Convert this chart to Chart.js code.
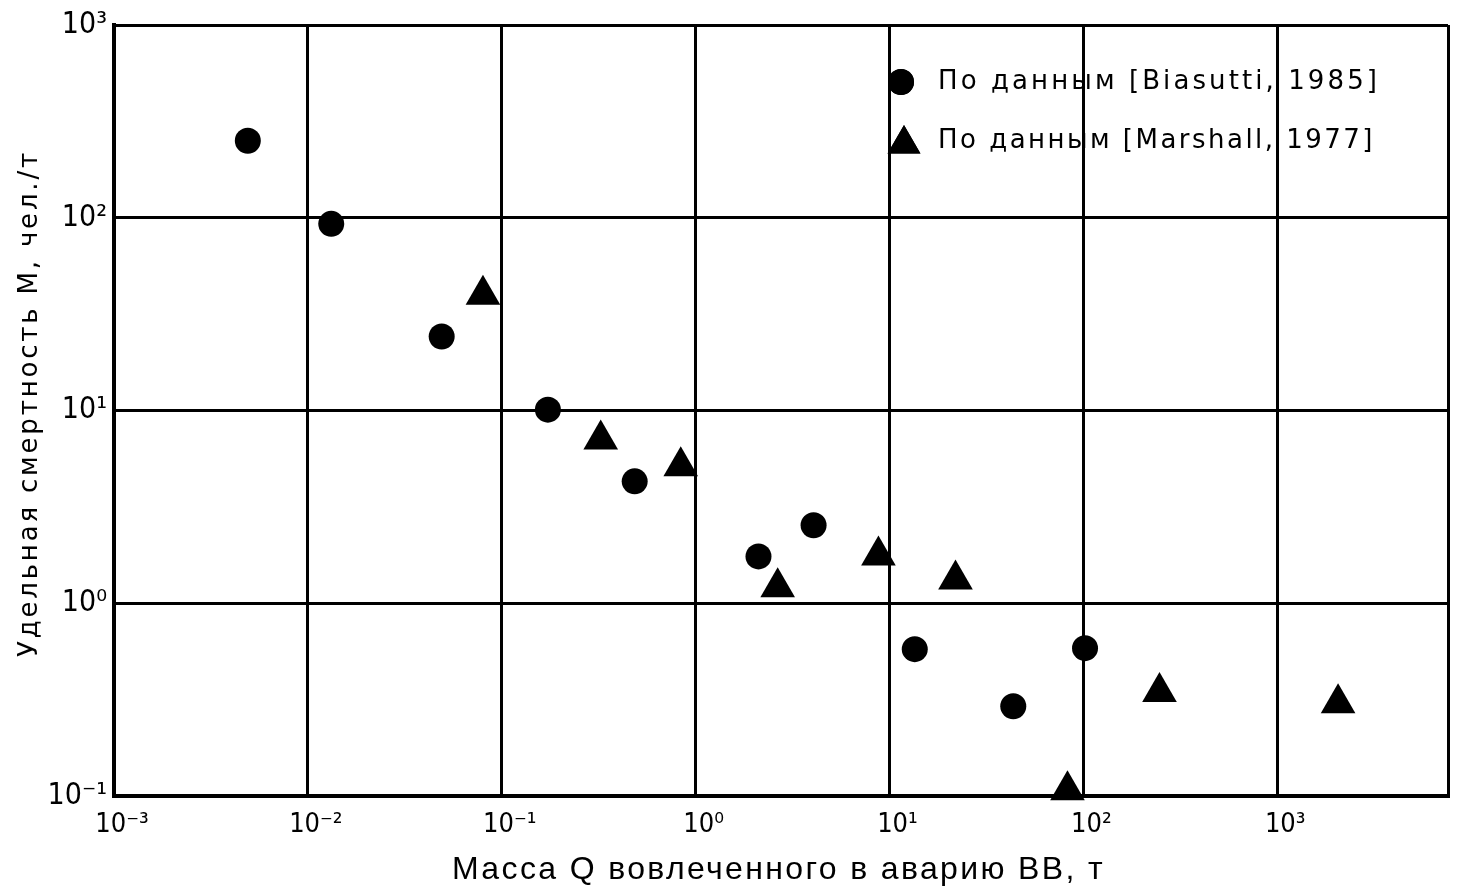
<!DOCTYPE html>
<html lang="ru">
<head>
<meta charset="utf-8">
<title>Удельная смертность</title>
<script src="https://cdn.jsdelivr.net/npm/chart.js@4.4.1/dist/chart.umd.min.js"></script>
<style>
  html, body { margin: 0; padding: 0; background: #fff; }
  canvas { display: block; }
</style>
</head>
<body>
<canvas id="chart" width="1463" height="892"></canvas>
<script>
// values (Q in t, M in people/t)
const BIASUTTI_Q = [0.0049, 0.0132, 0.049, 0.173, 0.485, 2.11, 4.06, 13.5, 43.5, 102]
const BIASUTTI_M = [251, 93, 24.2, 10.1, 4.29, 1.75, 2.54, 0.578, 0.292, 0.585]
const MARSHALL_Q = [0.080, 0.324, 0.838, 2.65, 8.77, 21.9, 82.8, 247, 2060]
const MARSHALL_M = [39.9, 7.08, 5.13, 1.21, 1.77, 1.33, 0.107, 0.346, 0.303]

const SERIES_LABELS = ["По данным [Biasutti, 1985]", "По данным [Marshall, 1977]"]

const X_TICKS       = [1e-3, 1e-2, 1e-1, 1, 10, 100, 1000]
const X_TICK_LABELS = ["10⁻³", "10⁻²", "10⁻¹", "10⁰", "10¹", "10²", "10³"]
const X_MIN = 1e-3
const X_MAX = 7600

const Y_TICKS       = [0.1, 1, 10, 100, 1000]
const Y_TICK_LABELS = ["10⁻¹", "10⁰", "10¹", "10²", "10³"]
const Y_MIN = 0.1
const Y_MAX = 1000

const X_TITLE = "Масса Q вовлеченного в аварию ВВ, т"
const Y_TITLE = "Удельная смертность M, чел./т"

const FONT      = '"Liberation Sans", "DejaVu Sans", sans-serif'
const WIDE_FONT = '"DejaVu Sans", "Liberation Sans", sans-serif'
const TICK_FONT = '"Liberation Sans Narrow", "DejaVu Sans Condensed", "Liberation Sans", sans-serif'

const toPoints = (xs, ys) => xs.map((x, i) => ({ x, y: ys[i] }))

const labelFor = (ticks, labels) => value => {
  const i = ticks.findIndex(t => Math.abs(t - value) <= t * 1e-9)
  return i === -1 ? "" : labels[i]
}

// the scan's lettering is loosely spaced, so stretch text to its measured run
function spacedText(ctx, text, x, y, width) {
  ctx.letterSpacing = "0px"
  const plain = ctx.measureText(text).width
  const n = Array.from(text).length
  ctx.letterSpacing = `${(width - plain) / n}px`
  ctx.fillText(text, x, y)
  ctx.letterSpacing = "0px"
}

// legend and axis titles, drawn over the grid like in the printed figure
const annotations = {
  id: "annotations",
  afterDatasetsDraw(chart) {
    const { ctx } = chart
    const rows = [
      { mx: 901, my: 82,  tx: 938, ty: 82,  w: 442 },
      { mx: 904, my: 144, tx: 938, ty: 141, w: 437 },
    ]
    ctx.save()
    ctx.fillStyle = "#000"
    ctx.textAlign = "left"
    ctx.textBaseline = "middle"
    ctx.font = `26px ${WIDE_FONT}`
    chart.data.datasets.forEach((ds, i) => {
      const r = rows[i]
      Chart.helpers.drawPoint(ctx, {
        pointStyle: ds.pointStyle,
        radius:     ds.pointStyle === "triangle" ? 19 : ds.pointRadius,
        rotation:   0,
        borderWidth: 0,
      }, r.mx, r.my)
      ctx.fill()
      spacedText(ctx, ds.label, r.tx, r.ty, r.w)
    })

    ctx.textBaseline = "alphabetic"
    ctx.font = `32px ${FONT}`
    spacedText(ctx, X_TITLE, 452, 879, 653)

    ctx.translate(37, 657)
    ctx.rotate(-Math.PI / 2)
    ctx.font = `26px ${WIDE_FONT}`
    spacedText(ctx, Y_TITLE, 0, 0, 507)
    ctx.restore()
  },
}

new Chart(document.getElementById("chart"), {
  type: "scatter",
  data: {
    datasets: [
      {
        label:           SERIES_LABELS[0],
        data:            toPoints(BIASUTTI_Q, BIASUTTI_M),
        pointStyle:      "circle",
        pointRadius:     13,
        backgroundColor: "#000",
        borderWidth:     0,
        clip:            false,
      },
      {
        label:           SERIES_LABELS[1],
        data:            toPoints(MARSHALL_Q, MARSHALL_M),
        pointStyle:      "triangle",
        pointRadius:     20,
        backgroundColor: "#000",
        borderWidth:     0,
        clip:            false,
      },
    ],
  },
  plugins: [annotations],
  options: {
    responsive: false,
    animation:  false,
    layout: {
      autoPadding: false,
      padding: { left: 0, right: 15, top: 24, bottom: 0 },
    },
    plugins: {
      legend:  { display: false },
      tooltip: { enabled: false },
    },
    scales: {
      x: {
        type: "logarithmic",
        min:  X_MIN,
        max:  X_MAX,
        afterBuildTicks: scale => {
          scale.ticks = X_TICKS.concat([X_MAX]).map(value => ({ value }))
        },
        afterFit: scale => { scale.height = 96 },
        grid:   { color: "#000", lineWidth: 3, drawTicks: false },
        border: { color: "#000", width: 4 },
        ticks: {
          color:       "#000",
          font:        { family: TICK_FONT, size: 27 },
          padding:     13,
          labelOffset: 8,
          maxRotation: 0,
          autoSkip:    false,
          callback:    labelFor(X_TICKS, X_TICK_LABELS),
        },
      },
      y: {
        type: "logarithmic",
        min:  Y_MIN,
        max:  Y_MAX,
        afterBuildTicks: scale => {
          scale.ticks = Y_TICKS.map(value => ({ value }))
        },
        afterFit: scale => { scale.width = 114 },
        grid:   { color: "#000", lineWidth: 3, drawTicks: false },
        border: { color: "#000", width: 4 },
        ticks: {
          color:    "#000",
          font:     { family: TICK_FONT, size: 30 },
          padding:  7,
          autoSkip: false,
          callback: labelFor(Y_TICKS, Y_TICK_LABELS),
        },
      },
    },
  },
})
</script>
</body>
</html>
